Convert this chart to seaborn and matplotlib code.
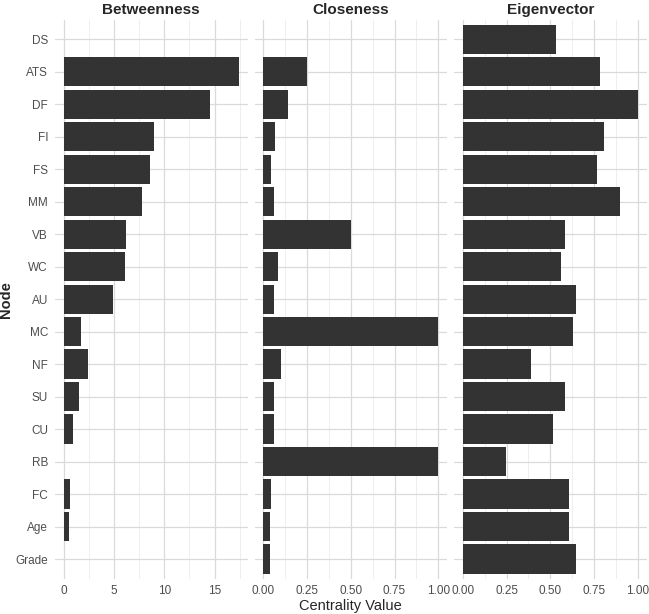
import pandas as pd
import matplotlib.pyplot as plt
import seaborn as sns
from matplotlib.ticker import MultipleLocator, FormatStrFormatter

nodes = ['DS', 'ATS', 'DF', 'FI', 'FS', 'MM', 'VB', 'WC', 'AU',
         'MC', 'NF', 'SU', 'CU', 'RB', 'FC', 'Age', 'Grade']
betweenness = [0, 17.4, 14.5, 9.0, 8.55, 7.8, 6.15, 6.1, 4.9,
               1.7, 2.4, 1.55, 0.9, 0, 0.62, 0.57, 0]
closeness = [0, 0.25, 0.143, 0.065, 0.046, 0.063, 0.50, 0.082, 0.061,
             1.0, 0.099, 0.061, 0.061, 1.0, 0.046, 0.040, 0.038]
eigenvector = [0.53, 0.785, 1.0, 0.806, 0.768, 0.901, 0.587, 0.559, 0.646,
               0.631, 0.392, 0.587, 0.513, 0.249, 0.606, 0.606, 0.648]
measures = ['Betweenness', 'Closeness', 'Eigenvector']

df = pd.DataFrame({
    'node': nodes * 3,
    'measure': [m for m in measures for _ in nodes],
    'value': betweenness + closeness + eigenvector,
})

sns.set_style('white')
plt.rcParams['font.family'] = ['Liberation Sans', 'DejaVu Sans']

fig = plt.figure(figsize=(6.49, 6.14), dpi=100)
W, H = 649, 614
left, pw, gap = 55, 192.5, 7
bottom, top = 35.5, 594.2
axes = []
for i, m in enumerate(measures):
    x0 = left + i * (pw + gap)
    ax = fig.add_axes([x0 / W, bottom / H, pw / W, (top - bottom) / H])
    axes.append(ax)
    sub = df[df.measure == m]
    sns.barplot(data=sub, x='value', y='node', order=nodes, ax=ax,
                color='#333333', saturation=1, width=0.9,
                linewidth=0, zorder=3)
    vmax = sub.value.max()
    ax.set_xlim(-0.05 * vmax, 1.05 * vmax)
    ax.set_ylim(len(nodes) - 0.4, -0.6)
    if m == 'Betweenness':
        ax.xaxis.set_major_locator(MultipleLocator(5))
        ax.xaxis.set_minor_locator(MultipleLocator(2.5))
        ax.xaxis.set_major_formatter(FormatStrFormatter('%d'))
    else:
        ax.xaxis.set_major_locator(MultipleLocator(0.25))
        ax.xaxis.set_minor_locator(MultipleLocator(0.125))
        ax.xaxis.set_major_formatter(FormatStrFormatter('%.2f'))
    ax.grid(which='major', axis='both', color='#dadada', linewidth=0.9, zorder=0)
    ax.grid(which='minor', axis='x', color='#e8e8e8', linewidth=0.5, zorder=0)
    ax.set_axisbelow(True)
    for s in ax.spines.values():
        s.set_visible(False)
    ax.tick_params(which='both', length=0, labelsize=8.5, labelcolor='#4d4d4d', pad=5)
    ax.set_title(m, fontsize=11, fontweight='bold', pad=4)
    ax.set_xlabel('')
    ax.set_ylabel('')
    if i > 0:
        ax.set_yticklabels([])

axes[0].set_ylabel('Node', fontsize=10.5, fontweight='bold', labelpad=2)
axes[1].set_xlabel('Centrality Value', fontsize=10.5, labelpad=1)

fig.savefig('out.png', dpi=100)
